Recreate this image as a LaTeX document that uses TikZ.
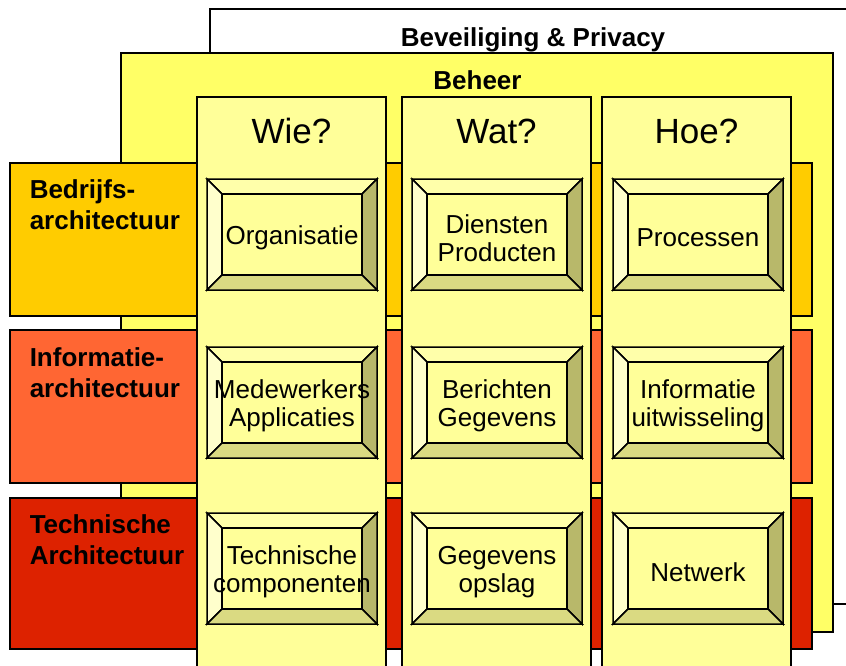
\documentclass[tikz,border=0pt]{standalone}
\usepackage{fontspec}
\setmainfont{Liberation Sans}
\usepackage{xcolor}
\usepackage{tikz}

\definecolor{beheergeel}{HTML}{FFFF66}
\definecolor{kolomgeel}{HTML}{FFFF99}
\definecolor{bedrijforanje}{HTML}{FFCC00}
\definecolor{infooranje}{HTML}{FF6633}
\definecolor{techrood}{HTML}{DD2200}
\definecolor{knopboven}{HTML}{FFFFAA}
\definecolor{knoplinks}{HTML}{FFFFCC}
\definecolor{knoprechts}{HTML}{B8B86A}
\definecolor{knoponder}{HTML}{DADA82}

\tikzset{
  laagtekst/.style={font=\bfseries\fontsize{26}{31}\selectfont,anchor=base,inner sep=0pt},
  rijtekst/.style={font=\bfseries\fontsize{26}{31}\selectfont,anchor=west,align=left,inner sep=0pt},
  koptekst/.style={font=\fontsize{35}{40}\selectfont,anchor=base,inner sep=0pt},
  knoptekst/.style={font=\fontsize{26}{28}\selectfont,align=center,inner sep=0pt}
}

% knop met schuine randen: x, y (linksboven), naam, tekst
\newcommand{\bevelknop}[4]{%
  \begin{scope}[shift={(#1,#2)}]
    \filldraw[fill=knopboven] (0,0) -- (170,0) -- (155,15) -- (15,15) -- cycle;
    \filldraw[fill=knoplinks] (0,0) -- (15,15) -- (15,96) -- (0,111) -- cycle;
    \filldraw[fill=knoprechts] (170,0) -- (170,111) -- (155,96) -- (155,15) -- cycle;
    \filldraw[fill=knoponder] (0,111) -- (170,111) -- (155,96) -- (15,96) -- cycle;
    \filldraw[fill=kolomgeel] (15,15) rectangle (155,96);
  \end{scope}
  \node[knoptekst] (#3) at (#1+85,#2+59) {#4};}

\begin{document}
\begin{tikzpicture}[x=1pt,y=-1pt,line width=1.5pt]
\useasboundingbox (0,0) rectangle (846,666);
\clip (0,0) rectangle (846,666);
% lagen
\filldraw[fill=white] (210,9) rectangle (880,604);
\filldraw[fill=beheergeel] (121,53) rectangle (833,632);
\node[laagtekst] (privacy) at (533,46.5) {Beveiliging \& Privacy};
\node[laagtekst] (beheer) at (477.5,89.5) {Beheer};
% architectuurlagen
\foreach \ytop/\ybot/\kleur in {163/316/bedrijforanje,330/483/infooranje,498/649/techrood}
  \filldraw[fill=\kleur] (10,\ytop) rectangle (812,\ybot);
\node[rijtekst] (bedrijf) at (29,205) {Bedrijfs-\\architectuur};
\node[rijtekst] (informatie) at (29,373) {Informatie-\\architectuur};
\node[rijtekst] (techniek) at (29,540) {Technische\\Architectuur};
% kolommen
\foreach \x/\naam/\kop in {197/wie/Wie?,402/wat/Wat?,602/hoe/Hoe?}{
  \filldraw[fill=kolomgeel] (\x,97) rectangle (\x+189,690);
  \node[koptekst] (\naam) at (\x+94.5,143) {\kop};
}
% knoppen
\foreach \x/\y/\naam/\tekst in {
    207/179/organisatie/Organisatie,
    412/179/diensten/{Diensten\\Producten},
    613/179/processen/Processen,
    207/347/medewerkers/{Medewerkers\\Applicaties},
    412/347/berichten/{Berichten\\Gegevens},
    613/347/uitwisseling/{Informatie\\uitwisseling},
    207/513/componenten/{Technische\\componenten},
    412/513/opslag/{Gegevens\\opslag},
    613/513/netwerk/Netwerk}
  \bevelknop{\x}{\y}{\naam}{\tekst};
\end{tikzpicture}
\end{document}
